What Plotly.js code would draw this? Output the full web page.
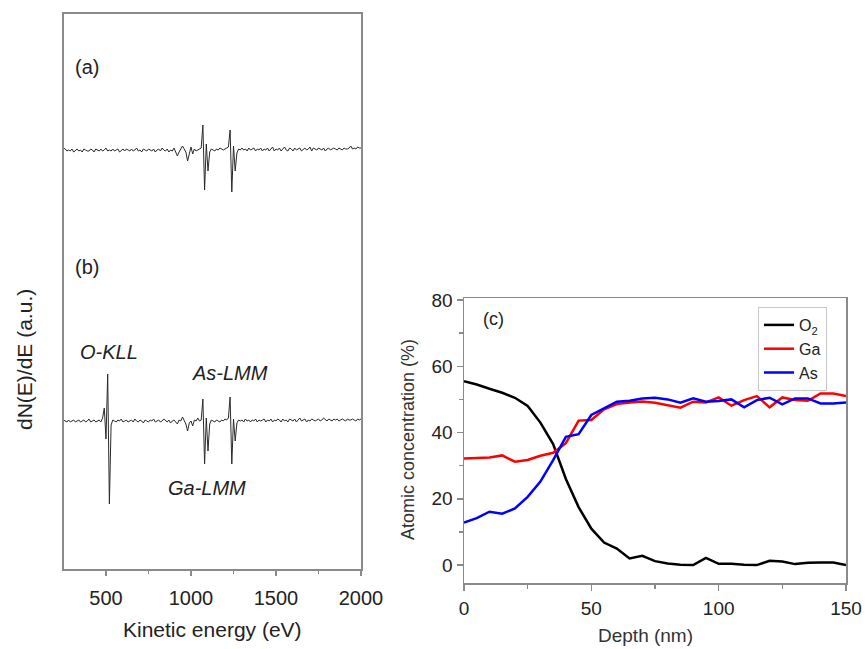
<!DOCTYPE html>
<html>
<head>
<meta charset="utf-8">
<script src="https://cdn.plot.ly/plotly-3.0.1.min.js"></script>
<style>
  html, body { margin: 0; padding: 0; background: #fff; }
  #myDiv { width: 866px; height: 649px; }
</style>
</head>
<body>
<div id="myDiv"></div>
<script>
// Kinetic energy grid of the Auger spectra (eV)
const energy = [
  250, 260, 270, 280, 290, 300, 310, 320, 330, 340,
  350, 360, 370, 380, 390, 400, 410, 420, 430, 440,
  450, 460, 470, 480, 490, 500, 510, 520, 530, 540,
  550, 560, 570, 580, 590, 600, 610, 620, 630, 640,
  650, 660, 670, 680, 690, 700, 710, 720, 730, 740,
  750, 760, 770, 780, 790, 800, 810, 820, 830, 840,
  850, 860, 870, 880, 890, 900, 910, 920, 930, 940,
  950, 960, 970, 980, 990, 1000, 1010, 1020, 1030, 1040,
  1050, 1060, 1070, 1080, 1090, 1100, 1110, 1120, 1130, 1140,
  1150, 1160, 1170, 1180, 1190, 1200, 1210, 1220, 1230, 1240,
  1250, 1260, 1270, 1280, 1290, 1300, 1310, 1320, 1330, 1340,
  1350, 1360, 1370, 1380, 1390, 1400, 1410, 1420, 1430, 1440,
  1450, 1460, 1470, 1480, 1490, 1500, 1510, 1520, 1530, 1540,
  1550, 1560, 1570, 1580, 1590, 1600, 1610, 1620, 1630, 1640,
  1650, 1660, 1670, 1680, 1690, 1700, 1710, 1720, 1730, 1740,
  1750, 1760, 1770, 1780, 1790, 1800, 1810, 1820, 1830, 1840,
  1850, 1860, 1870, 1880, 1890, 1900, 1910, 1920, 1930, 1940,
  1950, 1960, 1970, 1980, 1990, 2000
];

// dN(E)/dE, spectrum (a)
const spectrumA = [
  2, 1, -1, 0, -1, 1, -2, 0, 1, -1,
  0, -2, 1, 0, -1, -1, 1, 0, -2, 1,
  0, -1, 1, -1, 0, 2, -1, 0, -1, 1,
  -1, 0, 1, -2, 0, 1, -1, 1, 0, -1,
  1, -1, 0, 2, -1, 0, -2, 1, 0, -1,
  1, 0, -1, 1, -2, 0, 1, -1, 2, 0,
  -1, 1, -2, 0, -1, 2, -3, -6, -2, 1,
  4, 1, -2, -11, -4, 3, -4, 1, -1, 0,
  1, 2, 25, -40, 6, -21, -2, 1, 0, -1,
  1, 0, 2, 1, 0, 1, 2, 3, 20, -42,
  4, -21, -3, 1, 0, 2, 0, 1, -1, 2,
  0, 1, 2, -1, 1, 0, 2, -1, 1, 0,
  2, -1, 1, 3, -1, 1, 0, 2, -1, 1,
  3, 0, -1, 2, 1, -1, 2, 0, 1, 2,
  -1, 1, 2, 0, 1, 3, -1, 2, 1, 0,
  2, 1, 0, 2, -1, 1, 2, 0, 1, 2,
  1, 0, 2, 1, 0, 2, 1, 1, 2, 4,
  1, 2, 1, 3, 2, 2
];

// dN(E)/dE, spectrum (b), with the O-KLL peak
const spectrumB = [
  1, 0, -1, 1, -1, 0, 1, -1, 0, 1,
  -1, 0, 1, -1, 0, 2, -1, 0, 1, -1,
  0, 1, -1, 3, 13, -18, 47, -83, -4, 1,
  0, -1, 1, 0, 2, -1, 0, 1, -1, 0,
  1, -1, 2, 0, -1, 1, 0, -2, 1, 0,
  -1, 1, 0, 2, -1, 0, 1, -1, 0, 2,
  0, -1, 1, -2, 0, 1, -1, -3, 1, 0,
  4, 0, -3, -10, -2, 0, -5, 1, 0, 3,
  0, 1, 22, -43, 3, -30, -3, 1, 0, -1,
  1, 0, -1, 1, 0, 2, 1, 3, 24, -43,
  2, -20, -2, 1, 0, 1, -1, 2, 0, 1,
  -1, 1, 0, 2, -1, 1, 0, 1, 2, -1,
  1, 0, 2, -1, 1, 0, 2, 1, -1, 2,
  0, 1, -1, 2, 1, 0, 2, -1, 1, 3,
  0, 1, 2, -1, 1, 0, 2, 1, 0, 1,
  2, 0, 1, 3, 1, 0, 2, 1, 0, 2,
  1, 2, 0, 1, 2, 1, 0, 2, 1, 1,
  2, 1, 0, 2, 1, 2
];

// vertical offsets that stack the two spectra (a.u.)
const offsetA = 419;
const offsetB = 148;

// Depth profile
const depth = [0, 5, 10, 15, 20, 25, 30, 35, 40, 45, 50, 55, 60, 65, 70, 75,
  80, 85, 90, 95, 100, 105, 110, 115, 120, 125, 130, 135, 140, 145, 150];
const o2 = [55.5, 54.5, 53.2, 52.0, 50.5, 48.0, 43.0, 36.5, 26.0, 17.5, 11.0,
  6.8, 5.0, 2.0, 2.8, 1.2, 0.5, 0.1, 0.0, 2.2, 0.4, 0.4, 0.1, 0.0, 1.3, 1.1,
  0.3, 0.7, 0.8, 0.8, 0.0];
const ga = [32.2, 32.3, 32.5, 33.1, 31.2, 31.7, 33.0, 33.9, 36.8, 43.6, 43.8,
  47.0, 48.6, 49.1, 49.4, 49.0, 48.2, 47.5, 49.3, 49.1, 50.6, 48.1, 49.8, 51.0,
  47.6, 50.6, 49.8, 49.6, 51.8, 51.8, 51.0];
const as = [12.8, 14.2, 16.1, 15.5, 17.1, 20.6, 25.2, 31.7, 38.7, 39.5, 45.3,
  47.3, 49.3, 49.6, 50.3, 50.5, 50.0, 49.0, 50.3, 49.3, 49.5, 50.0, 47.6, 49.8,
  50.5, 48.5, 50.3, 50.3, 48.8, 48.8, 49.1];

const W = 866, H = 649;
const px = x => x / W;
const py = y => 1 - y / H;
const FONT = 'Liberation Sans, Arial, sans-serif';
const FRAME = '#8a8a8a';

const data = [
  {
    x: energy, y: spectrumA.map(v => v + offsetA),
    type: 'scatter', mode: 'lines', xaxis: 'x', yaxis: 'y',
    line: { color: '#2a2a2a', width: 1 }, showlegend: false
  },
  {
    x: energy, y: spectrumB.map(v => v + offsetB),
    type: 'scatter', mode: 'lines', xaxis: 'x', yaxis: 'y',
    line: { color: '#2a2a2a', width: 1 }, showlegend: false
  },
  {
    x: depth, y: o2, name: 'O<sub>2</sub>',
    type: 'scatter', mode: 'lines', xaxis: 'x2', yaxis: 'y2',
    line: { color: '#000000', width: 2.5 }
  },
  {
    x: depth, y: ga, name: 'Ga',
    type: 'scatter', mode: 'lines', xaxis: 'x2', yaxis: 'y2',
    line: { color: '#ff0000', width: 2.5 }
  },
  {
    x: depth, y: as, name: 'As',
    type: 'scatter', mode: 'lines', xaxis: 'x2', yaxis: 'y2',
    line: { color: '#0000ff', width: 2.5 }
  }
];

// text placed by its centre, in page pixels
function label(text, x, y, size, extra) {
  return Object.assign({
    text: text, x: px(x), y: py(y), xref: 'paper', yref: 'paper',
    xanchor: 'center', yanchor: 'middle', showarrow: false,
    font: { size: size, color: '#222' }
  }, extra || {});
}

const leftTicks = { family: FONT, size: 20, color: '#222' };
const rightTicks = { family: FONT, size: 19, color: '#222' };

const layout = {
  width: W, height: H,
  margin: { l: 0, r: 0, t: 0, b: 0 },
  paper_bgcolor: '#fff', plot_bgcolor: '#fff',
  font: { family: FONT, color: '#222' },
  xaxis: {
    domain: [px(64), px(361)], range: [253, 2000], anchor: 'y',
    showgrid: false, zeroline: false,
    showline: true, linecolor: FRAME, linewidth: 2, mirror: true,
    ticks: 'outside', ticklen: 5, tickcolor: FRAME, tickwidth: 1.5,
    ticklabelstandoff: 5,
    tick0: 500, dtick: 500, tickfont: leftTicks,
    minor: { ticks: 'outside', ticklen: 3, dtick: 250, tick0: 250, tickcolor: FRAME, tickwidth: 1.5 }
  },
  yaxis: {
    domain: [py(569), py(14)], range: [0, 555], anchor: 'x',
    showgrid: false, zeroline: false, showticklabels: false, ticks: '',
    showline: true, linecolor: FRAME, linewidth: 2, mirror: true
  },
  xaxis2: {
    domain: [px(464), px(846)], range: [0, 150], anchor: 'y2',
    showgrid: false, zeroline: false,
    showline: true, linecolor: FRAME, linewidth: 1.5, mirror: true,
    ticks: 'outside', ticklen: 6, tickcolor: FRAME, tickwidth: 1.5,
    ticklabelstandoff: 2,
    tick0: 0, dtick: 50, tickfont: rightTicks,
    minor: { ticks: 'outside', ticklen: 4, dtick: 25, tickcolor: FRAME, tickwidth: 1.5 }
  },
  yaxis2: {
    domain: [py(583), py(298)], range: [-5.4, 80.6], anchor: 'x2',
    showgrid: false, zeroline: false,
    showline: true, linecolor: FRAME, linewidth: 1.5, mirror: true,
    ticks: 'outside', ticklen: 6, tickcolor: FRAME, tickwidth: 1.5,
    tick0: 0, dtick: 20, tickfont: rightTicks,
    minor: { ticks: 'outside', ticklen: 4, dtick: 10, tickcolor: FRAME, tickwidth: 1.5 }
  },
  legend: {
    x: px(758), xanchor: 'left', y: py(307), yanchor: 'top',
    bgcolor: '#fff', bordercolor: '#c8c8c8', borderwidth: 1,
    font: { family: FONT, size: 16, color: '#222' },
    tracegroupgap: 0, itemwidth: 30
  },
  annotations: [
    label('Kinetic energy (eV)', 212, 629, 21),
    label('dN(E)/dE (a.u.)', 25, 360, 21, { textangle: -90 }),
    label('(a)', 87, 67, 20),
    label('(b)', 87, 267, 20),
    label('<i>O-KLL</i>', 109, 352, 20),
    label('<i>As-LMM</i>', 230, 373, 20),
    label('<i>Ga-LMM</i>', 207, 488, 20),
    label('Depth (nm)', 645, 635, 19, { font: { size: 19, color: '#333' } }),
    label('Atomic concentration (%)', 408, 440, 18, { textangle: -90, font: { size: 18, color: '#333' } }),
    label('(c)', 494, 319, 18)
  ]
};

Plotly.newPlot('myDiv', data, layout, { staticPlot: true });
</script>
</body>
</html>
